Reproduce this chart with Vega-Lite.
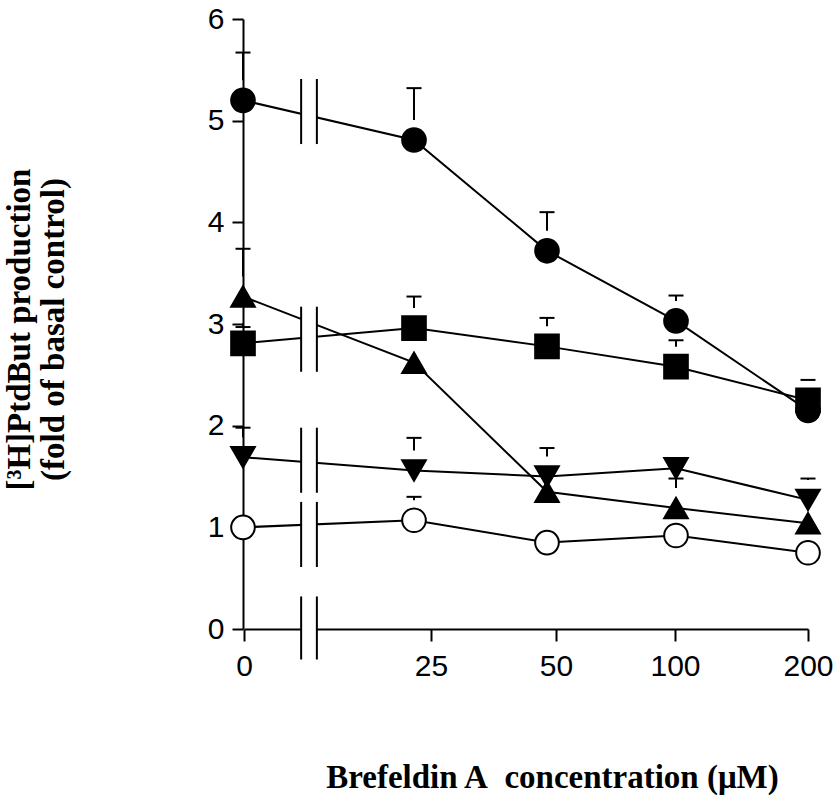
{
  "$schema": "https://vega.github.io/schema/vega-lite/v6.json",
  "width": 565,
  "height": 610,
  "autosize": {"type": "none"},
  "padding": {"left": 243, "top": 19, "right": 26, "bottom": 169},
  "background": "white",
  "config": {
    "view": {"stroke": null},
    "axis": {
      "grid": false,
      "domainColor": "black",
      "domainWidth": 2,
      "tickColor": "black",
      "tickWidth": 2,
      "labelColor": "black",
      "labelFont": "Liberation Sans",
      "labelFontSize": 30,
      "labelFlush": false,
      "labelOverlap": false,
      "titleColor": "black",
      "titleFont": "Liberation Serif",
      "titleFontWeight": "bold"
    }
  },
  "datasets": {
    "pts": [
      {"series": "circle", "conc": 0, "value": 5.20, "err": 5.67},
      {"series": "circle", "conc": 25, "value": 4.81, "err": 5.32},
      {"series": "circle", "conc": 50, "value": 3.72, "err": 4.10},
      {"series": "circle", "conc": 100, "value": 3.03, "err": 3.28},
      {"series": "circle", "conc": 200, "value": 2.15, "err": null},
      {"series": "square", "conc": 0, "value": 2.81, "err": 2.97},
      {"series": "square", "conc": 25, "value": 2.96, "err": 3.27},
      {"series": "square", "conc": 50, "value": 2.78, "err": 3.06},
      {"series": "square", "conc": 100, "value": 2.58, "err": 2.84},
      {"series": "square", "conc": 200, "value": 2.25, "err": 2.45},
      {"series": "tri_up", "conc": 0, "value": 3.27, "err": 3.74},
      {"series": "tri_up", "conc": 25, "value": 2.62, "err": null},
      {"series": "tri_up", "conc": 50, "value": 1.35, "err": null},
      {"series": "tri_up", "conc": 100, "value": 1.19, "err": 1.48},
      {"series": "tri_up", "conc": 200, "value": 1.04, "err": null},
      {"series": "tri_down", "conc": 0, "value": 1.69, "err": 1.98},
      {"series": "tri_down", "conc": 25, "value": 1.56, "err": 1.88},
      {"series": "tri_down", "conc": 50, "value": 1.50, "err": 1.78},
      {"series": "tri_down", "conc": 100, "value": 1.58, "err": null},
      {"series": "tri_down", "conc": 200, "value": 1.27, "err": 1.48},
      {"series": "open", "conc": 0, "value": 1.00, "err": null},
      {"series": "open", "conc": 25, "value": 1.07, "err": 1.30},
      {"series": "open", "conc": 50, "value": 0.85, "err": null},
      {"series": "open", "conc": 100, "value": 0.92, "err": null},
      {"series": "open", "conc": 200, "value": 0.75, "err": null}
    ],
    "gap": [{"from": 8.5, "to": 10.8}],
    "breaks": [
      {"edge": 8.5, "lo": 4.77, "hi": 5.41},
      {"edge": 10.8, "lo": 4.77, "hi": 5.41},
      {"edge": 8.5, "lo": 2.53, "hi": 3.17},
      {"edge": 10.8, "lo": 2.53, "hi": 3.17},
      {"edge": 8.5, "lo": 1.34, "hi": 1.98},
      {"edge": 10.8, "lo": 1.34, "hi": 1.98},
      {"edge": 8.5, "lo": 0.61, "hi": 1.25},
      {"edge": 10.8, "lo": 0.61, "hi": 1.25},
      {"edge": 8.5, "lo": -0.30, "hi": 0.32},
      {"edge": 10.8, "lo": -0.30, "hi": 0.32}
    ],
    "ticks": [{"conc": 0}, {"conc": 25}, {"conc": 50}, {"conc": 100}, {"conc": 200}]
  },
  "layer": [
    {
      "layer": [
        {
          "data": {"name": "pts"},
          "mark": {"type": "line", "color": "black", "strokeWidth": 2},
          "encoding": {
            "x": {"field": "conc", "type": "quantitative", "scale": {"domain": [0, 25, 50, 100, 200], "range": [0, 171, 304, 433, 565], "nice": false, "zero": false}, "axis": null},
            "y": {"field": "value", "type": "quantitative", "scale": {"domain": [0, 6], "nice": false, "zero": false},
              "axis": {
                "values": [0, 1, 2, 3, 4, 5, 6],
                "format": "d",
                "tickSize": 11,
                "labelPadding": 8,
                "title": ["[³H]PtdBut production", "(fold of basal control)"],
                "titleFontSize": 33,
                "titleLineHeight": 34,
                "titleAngle": 270,
                "titleAlign": "center",
                "titleBaseline": "top",
                "titleX": -240,
                "titleY": 310
              }
            },
            "detail": {"field": "series"}
          }
        },
        {
          "data": {"name": "gap"},
          "mark": {"type": "rect", "color": "white", "opacity": 1},
          "encoding": {
            "x": {"field": "from", "type": "quantitative", "scale": {"domain": [0, 25, 50, 100, 200], "range": [0, 171, 304, 433, 565], "nice": false, "zero": false}, "axis": null},
            "x2": {"field": "to"},
            "y": {"datum": 6},
            "y2": {"datum": -0.12}
          }
        },
        {
          "data": {"name": "breaks"},
          "mark": {"type": "rule", "color": "black", "strokeWidth": 2},
          "encoding": {
            "x": {"field": "edge", "type": "quantitative", "scale": {"domain": [0, 25, 50, 100, 200], "range": [0, 171, 304, 433, 565], "nice": false, "zero": false}, "axis": null},
            "y": {"field": "lo", "type": "quantitative"},
            "y2": {"field": "hi"}
          }
        },
        {
          "data": {"name": "pts"},
          "transform": [{"filter": "datum.err != null"}],
          "mark": {"type": "rule", "color": "black", "strokeWidth": 2, "y2Offset": -20},
          "encoding": {
            "x": {"field": "conc", "type": "quantitative", "scale": {"domain": [0, 25, 50, 100, 200], "range": [0, 171, 304, 433, 565], "nice": false, "zero": false}, "axis": null},
            "y": {"field": "err", "type": "quantitative"},
            "y2": {"field": "value"}
          }
        },
        {
          "data": {"name": "pts"},
          "transform": [{"filter": "datum.err != null"}],
          "mark": {"type": "tick", "orient": "horizontal", "color": "black", "size": 15, "thickness": 2, "opacity": 1},
          "encoding": {
            "x": {"field": "conc", "type": "quantitative", "scale": {"domain": [0, 25, 50, 100, 200], "range": [0, 171, 304, 433, 565], "nice": false, "zero": false}, "axis": null},
            "y": {"field": "err", "type": "quantitative"}
          }
        },
        {
          "data": {"name": "pts"},
          "mark": {"type": "point", "stroke": "black", "strokeWidth": 2, "opacity": 1, "size": 560},
          "encoding": {
            "x": {"field": "conc", "type": "quantitative", "scale": {"domain": [0, 25, 50, 100, 200], "range": [0, 171, 304, 433, 565], "nice": false, "zero": false}, "axis": null},
            "y": {"field": "value", "type": "quantitative"},
            "shape": {"field": "series", "type": "nominal", "scale": {"domain": ["circle", "square", "tri_up", "tri_down", "open"], "range": ["circle", "square", "triangle-up", "triangle-down", "circle"]}, "legend": null},
            "fill": {"field": "series", "type": "nominal", "scale": {"domain": ["circle", "square", "tri_up", "tri_down", "open"], "range": ["black", "black", "black", "black", "white"]}, "legend": null}
          }
        }
      ]
    },
    {
      "data": {"name": "ticks"},
      "mark": {"type": "point", "opacity": 0},
      "encoding": {
        "x": {
          "field": "conc",
          "type": "quantitative",
          "scale": {"domain": [0, 25, 50, 100, 200], "range": [1, 188, 313, 432, 565], "nice": false, "zero": false},
          "axis": {
            "orient": "bottom",
            "values": [0, 25, 50, 100, 200],
            "format": "d",
            "tickSize": 12,
            "labelPadding": 10,
            "title": "Brefeldin A\u00a0 concentration (μM)",
            "titleFontSize": 33,
            "titleAlign": "center",
            "titleBaseline": "alphabetic",
            "titleX": 309,
            "titleY": 158
          }
        }
      }
    }
  ],
  "resolve": {"scale": {"x": "independent"}}
}
